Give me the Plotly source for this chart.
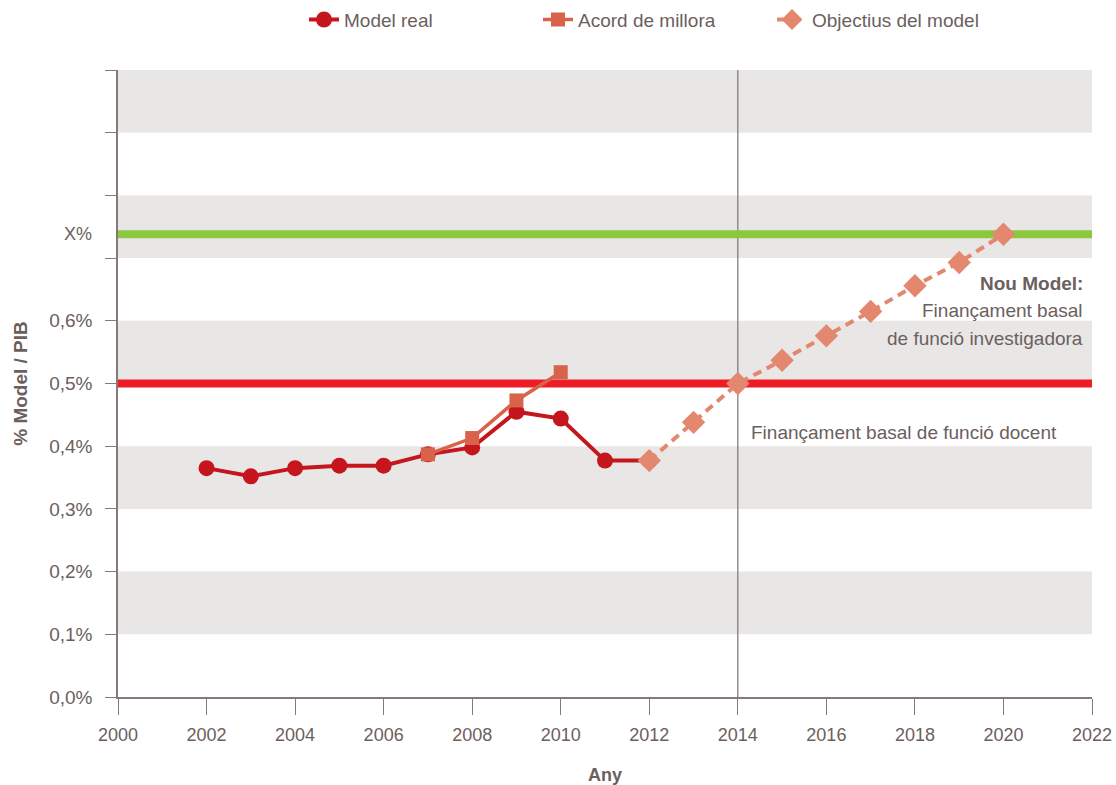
import plotly.graph_objects as go

# Data
years_real = [2002, 2003, 2004, 2005, 2006, 2007, 2008, 2009, 2010, 2011, 2012]
vals_real = [0.365, 0.352, 0.365, 0.369, 0.369, 0.387, 0.398, 0.455, 0.444, 0.377, 0.377]

years_acord = [2007, 2008, 2009, 2010]
vals_acord = [0.387, 0.413, 0.473, 0.518]

years_obj = [2012, 2013, 2014, 2015, 2016, 2017, 2018, 2019, 2020]
vals_obj = [0.377, 0.438, 0.500, 0.537, 0.576, 0.615, 0.656, 0.693, 0.738]

docent_level = 0.5
target_level = 0.738
target_label = "X%"
divider_year = 2014

x_range = [2000, 2022]
x_ticks = list(range(2000, 2023, 2))
y_ticks = [0.0, 0.1, 0.2, 0.3, 0.4, 0.5, 0.6, 0.7, 0.8, 0.9, 1.0]
y_ticktext = ["0,0%", "0,1%", "0,2%", "0,3%", "0,4%", "0,5%", "0,6%", "", "", "", ""]
band_ranges = [(0.1, 0.2), (0.3, 0.4), (0.5, 0.6), (0.7, 0.8), (0.9, 1.0)]

TXT = "#6b605d"
AX = "#85797a"
FONT = "Liberation Sans"

fig = go.Figure()

# reference lines (as traces)
fig.add_trace(go.Scatter(x=x_range, y=[docent_level, docent_level], mode="lines",
                         line=dict(color="#ee1c25", width=8), showlegend=False, hoverinfo="skip"))
fig.add_trace(go.Scatter(x=x_range, y=[target_level, target_level], mode="lines",
                         line=dict(color="#8dc63f", width=8), showlegend=False, hoverinfo="skip"))

fig.add_trace(go.Scatter(x=years_real, y=vals_real, mode="lines+markers", name="Model real",
                         line=dict(color="#c4161c", width=4),
                         marker=dict(symbol="circle", size=16, color="#c4161c")))
fig.add_trace(go.Scatter(x=years_acord, y=vals_acord, mode="lines+markers", name="Acord de millora",
                         line=dict(color="#d9624a", width=3.5),
                         marker=dict(symbol="square", size=14, color="#d9624a")))
fig.add_trace(go.Scatter(x=years_obj, y=vals_obj, mode="lines+markers", name="Objectius del model",
                         line=dict(color="#e3886e", width=4, dash="9px,6px"),
                         marker=dict(symbol="diamond", size=18, color="#e3886e")))

shapes = []
for lo, hi in band_ranges:
    shapes.append(dict(type="rect", xref="paper", yref="y", x0=0, x1=1, y0=lo, y1=hi,
                       fillcolor="#e9e7e6", line=dict(width=0), layer="below"))
shapes.append(dict(type="line", xref="x", yref="paper", x0=divider_year, x1=divider_year, y0=0, y1=1,
                   line=dict(color="#7d7373", width=1.2), layer="below"))

annotations = [
    dict(xref="paper", yref="y", x=0, y=target_level, text=target_label, showarrow=False,
         xanchor="right", xshift=-24, font=dict(size=18, color=TXT, family=FONT)),
    dict(xref="x", yref="y", x=2021.85, y=0.660, text="<b>Nou Model:</b>", showarrow=False,
         xanchor="right", font=dict(size=19, color=TXT, family=FONT)),
    dict(xref="x", yref="y", x=2021.85, y=0.617, text="Finançament basal", showarrow=False,
         xanchor="right", font=dict(size=19, color=TXT, family=FONT)),
    dict(xref="x", yref="y", x=2021.85, y=0.571, text="de funció investigadora", showarrow=False,
         xanchor="right", font=dict(size=19, color=TXT, family=FONT)),
    dict(xref="x", yref="y", x=2021.25, y=0.4226, text="Finançament basal de funció docent", showarrow=False,
         xanchor="right", font=dict(size=19, color=TXT, family=FONT)),
]

fig.update_layout(
    width=1116, height=785,
    margin=dict(l=118, r=24, t=70, b=88),
    paper_bgcolor="white", plot_bgcolor="white",
    font=dict(family=FONT, size=18, color=TXT),
    shapes=shapes, annotations=annotations,
    legend=dict(orientation="h", xref="container", yref="container",
                x=0.2724, xanchor="left", y=0.975, yanchor="middle",
                font=dict(size=19, color=TXT), traceorder="normal", entrywidth=189),
    xaxis=dict(range=x_range, tickvals=x_ticks, showgrid=False, zeroline=False, automargin=False,
               showline=True, linecolor=AX, linewidth=1.5, ticks="outside", ticklen=16,
               tickcolor=AX, tickwidth=1.2, tickfont=dict(size=18, color=TXT), ticklabelstandoff=5,
               title=dict(text="<b>Any</b>", font=dict(size=18, color=TXT), standoff=26)),
    yaxis=dict(range=[0, 1.0], tickvals=y_ticks, ticktext=y_ticktext, showgrid=False, zeroline=False,
               automargin=False,
               showline=True, linecolor=AX, linewidth=1.5, ticks="outside", ticklen=11,
               tickcolor=AX, tickwidth=1.2, tickfont=dict(size=19, color=TXT), ticklabelstandoff=9,
               title=dict(text="<b>% Model / PIB</b>", font=dict(size=19, color=TXT), standoff=16)),
)

fig.write_html("out.html", config={"displayModeBar": False},
               post_script="document.body.style.margin='0';")
